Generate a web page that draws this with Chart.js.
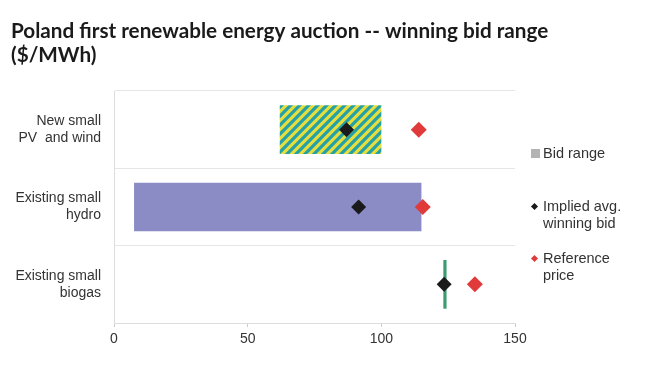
<!DOCTYPE html>
<html>
<head>
<meta charset="utf-8">
<script src="https://cdn.jsdelivr.net/npm/chart.js@4/dist/chart.umd.min.js"></script>
<style>
  html, body { margin: 0; padding: 0; background: #fff; }
  #wrap { position: relative; width: 650px; height: 375px; }
  canvas { display: block; }
  .lg { position: absolute; font-family: "Liberation Sans", Arial, sans-serif; font-size: 14.5px; line-height: 17px; color: #333; }
  .mk { position: absolute; }
</style>
</head>
<body>
<div id="wrap">
  <canvas id="c" width="650" height="375"></canvas>
  <div class="mk" style="left:531px;top:149px;width:9px;height:9px;background:#b3b3b3;"></div>
  <div class="lg" style="left:543px;top:145px;">Bid range</div>
  <div class="mk" style="left:532px;top:204px;width:5px;height:5px;background:#1a1a1a;transform:rotate(45deg);"></div>
  <div class="lg" style="left:543px;top:198px;">Implied avg.<br>winning bid</div>
  <div class="mk" style="left:532px;top:256px;width:5px;height:5px;background:#e03a3a;transform:rotate(45deg);"></div>
  <div class="lg" style="left:543px;top:250px;">Reference<br>price</div>
</div>
<script>
const categories = [["New small", "PV  and wind"], ["Existing small", "hydro"], ["Existing small", "biogas"]];
const bidLow = [62, 7.5, 123.2];
const bidHigh = [100, 115, 124.4];
const impliedAvgBid = [87, 91.5, 123.5];
const referencePrice = [114, 115.5, 135];
const xTicks = [0, 50, 100, 150];

function stripePattern() {
  const t = document.createElement('canvas');
  t.width = 9; t.height = 9;
  const g = t.getContext('2d');
  g.fillStyle = '#e4df3f';
  g.fillRect(0, 0, 9, 9);
  g.strokeStyle = '#25a0a6';
  g.lineWidth = 3.2;
  g.beginPath();
  g.moveTo(-1, 10); g.lineTo(10, -1);
  g.moveTo(-5.5, 5.5); g.lineTo(5.5, -5.5);
  g.moveTo(3.5, 14.5); g.lineTo(14.5, 3.5);
  g.stroke();
  return document.getElementById('c').getContext('2d').createPattern(t, 'repeat');
}

const ranges = bidLow.map((v, i) => [v, bidHigh[i]]);
const font = { family: "'Liberation Sans', Arial, sans-serif", size: 14, lineHeight: 1.2 };

new Chart(document.getElementById('c'), {
  data: {
    labels: categories,
    datasets: [
      {
        type: 'line', label: 'Implied avg. winning bid', data: impliedAvgBid,
        showLine: false, pointStyle: 'rectRot', pointRadius: 7.5,
        pointBackgroundColor: '#1a1a1a', pointBorderColor: '#1a1a1a', pointBorderWidth: 0, order: 1
      },
      {
        type: 'line', label: 'Reference price', data: referencePrice,
        showLine: false, pointStyle: 'rectRot', pointRadius: 8,
        pointBackgroundColor: '#e03a3a', pointBorderColor: '#e03a3a', pointBorderWidth: 0, order: 1
      },
      {
        type: 'bar', label: 'Bid range', data: ranges,
        backgroundColor: [stripePattern(), '#8b8cc5', '#3d9b72'],
        borderWidth: 0, categoryPercentage: 1, barPercentage: 0.63, order: 2
      }
    ]
  },
  options: {
    indexAxis: 'y',
    responsive: false,
    animation: false,
    layout: { padding: { left: 11, right: 0, top: 0, bottom: 0 } },
    plugins: {
      legend: { display: false },
      tooltip: { enabled: false },
      title: {
        display: true,
        align: 'start',
        text: ['Poland first renewable energy auction -- winning bid range', '($/MWh)'],
        color: '#1a1a1a',
        font: { family: "Lato, sans-serif", size: 20.7, weight: 'bold', lineHeight: 24.5 / 20.7 },
        padding: { top: 19, bottom: 23 }
      }
    },
    scales: {
      x: {
        type: 'linear', min: 0, max: 150,
        afterBuildTicks: s => { s.ticks = xTicks.map(v => ({ value: v })); },
        afterFit: s => { s.height = 52; },
        grid: { drawOnChartArea: false, drawTicks: true, tickLength: 4, color: '#cccccc' },
        border: { color: '#dddddd' },
        ticks: { color: '#333', font: font, padding: 4 }
      },
      y: {
        type: 'category',
        afterFit: s => { s.width = 103; },
        grid: { offset: true, drawTicks: false, color: '#e6e6e6' },
        border: { color: '#dddddd' },
        ticks: { color: '#333', font: font, padding: 13 }
      },
      yRight: {
        type: 'category',
        position: 'right',
        afterFit: s => { s.width = 135; },
        grid: { display: false },
        border: { display: false },
        ticks: { display: false }
      }
    }
  }
});
</script>
</body>
</html>
